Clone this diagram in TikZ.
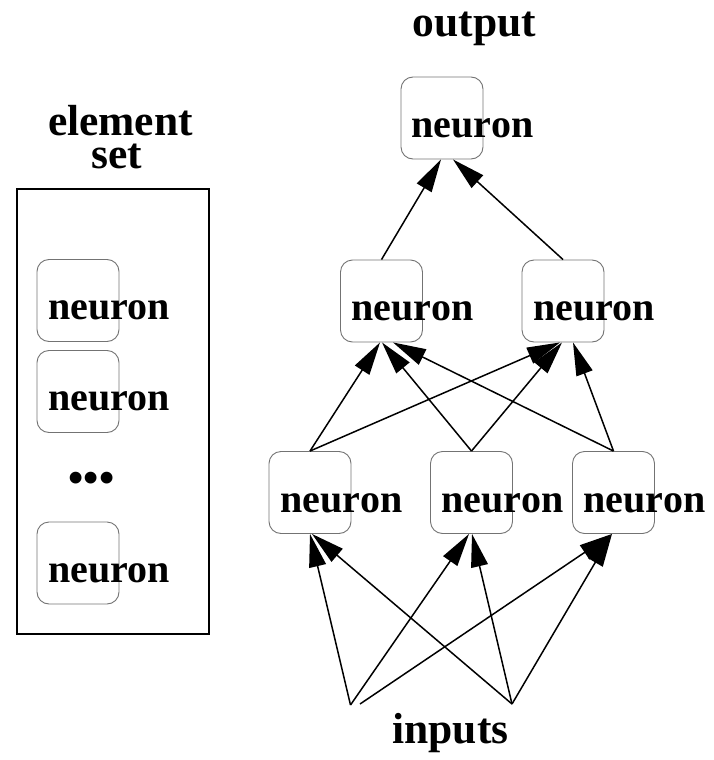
\documentclass[tikz,border=0pt]{standalone}
\usepackage{fontspec}
\setmainfont{Liberation Serif}
\usetikzlibrary{arrows.meta}
\begin{document}
\begin{tikzpicture}[x=1pt,y=-1pt,
  nbox/.style={draw=black!55, line width=0.9pt, rounded corners=12pt, minimum width=82pt, minimum height=82pt, inner sep=0pt},
  ntext/.style={anchor=base west, inner sep=0pt, font=\fontsize{40}{40}\selectfont\bfseries},
  lbl/.style={anchor=base, inner sep=0pt, font=\fontsize{43.5}{44}\selectfont\bfseries},
  edge/.style={line width=1.5pt, -{Triangle[length=33pt,width=17pt]}},
  setbox/.style={draw=black, line width=1.6pt, minimum width=192pt, minimum height=445pt, inner sep=0pt},
]
\useasboundingbox (0,0) rectangle (713,760);

% labels
\node[lbl] (outlbl) at (474.5,37) {output};
\node[lbl] (ellbl) at (120.5,135.5) {element};
\node[lbl] (setlbl) at (117,168) {set};
\node[lbl] (inlbl) at (450.5,743) {inputs};

% element set
\node[setbox] (set) at (113,411.5) {};
\node[nbox] (l1) at (78,300.5) {};
\node[ntext] (l1t) at ([xshift=11.5pt,yshift=-60pt]l1.north west) {neuron};
\node[nbox] (l2) at (78,391.5) {};
\node[ntext] (l2t) at ([xshift=11.5pt,yshift=-60pt]l2.north west) {neuron};
\node[anchor=north, inner sep=0pt, font=\fontsize{43.5}{44}\selectfont\bfseries] (dots) at (91.5,472.5) {•••};
\node[nbox] (l4) at (78,563) {};
\node[ntext] (l4t) at ([xshift=11.5pt,yshift=-61pt]l4.north west) {neuron};

% network
\node[nbox] (top) at (442,118) {};
\node[ntext] (topt) at ([xshift=11pt,yshift=-61pt]top.north west) {neuron};
\node[nbox] (h1) at (381.5,301) {};
\node[ntext] (h1t) at ([xshift=11.5pt,yshift=-61pt]h1.north west) {neuron};
\node[nbox] (h2) at (563,301) {};
\node[ntext] (h2t) at ([xshift=11.5pt,yshift=-61pt]h2.north west) {neuron};
\node[nbox] (b1) at (310,492.5) {};
\node[ntext] (b1t) at ([xshift=12pt,yshift=-61pt]b1.north west) {neuron};
\node[nbox] (b2) at (471.5,492.5) {};
\node[ntext] (b2t) at ([xshift=11.5pt,yshift=-61pt]b2.north west) {neuron};
\node[nbox] (b3) at (613.5,492.5) {};
\node[ntext] (b3t) at ([xshift=11.5pt,yshift=-61pt]b3.north west) {neuron};

\coordinate (in1) at (350.5,705);
\coordinate (in1b) at (360,704);
\coordinate (in2) at (512,704);

% hidden -> output
\draw[edge] (h1.north) -- ([xshift=-1pt]top.south);
\draw[edge] (h2.north) -- ([xshift=11pt]top.south);
% bottom -> hidden
\draw[edge] (b1.north) -- ([xshift=-1.5pt]h1.south);
\draw[edge] (b1.north) -- ([xshift=-3pt]h2.south);
\draw[edge] (b2.north) -- ([xshift=0.5pt]h1.south);
\draw[edge] (b2.north) -- ([xshift=-1pt]h2.south);
\draw[edge] (b3.north) -- ([xshift=11.5pt]h1.south);
\draw[edge] (b3.north) -- ([xshift=10pt]h2.south);
% inputs -> bottom
\draw[edge] (in1) -- ([xshift=0pt]b1.south);
\draw[edge] (in2) -- ([xshift=2pt]b1.south);
\draw[edge] (in1) -- ([xshift=-2.5pt]b2.south);
\draw[edge] (in2) -- ([xshift=0.5pt]b2.south);
\draw[edge] (in1b) -- ([xshift=-1.5pt]b3.south);
\draw[edge] (in2) -- ([xshift=-1.5pt]b3.south);
\end{tikzpicture}
\end{document}
